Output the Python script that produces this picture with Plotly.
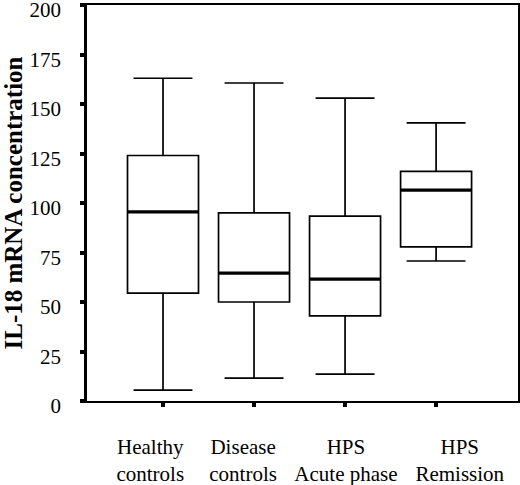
import plotly.graph_objects as go

GROUPS = ['Healthy<br>controls', 'Disease<br>controls', 'HPS<br>Acute phase', 'HPS<br>Remission']
LOWER = [5.5, 11.6, 13.6, 70.7]
Q1 = [54.5, 50.0, 43.0, 77.8]
MEDIAN = [95.5, 64.6, 61.6, 106.5]
Q3 = [124.0, 95.0, 93.4, 116.0]
UPPER = [163.0, 160.6, 153.0, 140.5]
Y_TICKS = [0, 25, 50, 75, 100, 125, 150, 175, 200]

BOX_W = 0.78
X_RANGE = [-0.835, 3.9]
# the original prints the category names a little off their tick marks
LABEL_SHIFT = [-0.14, -0.12, 0.01, 0.26]
SERIF = 'Liberation Serif, Times New Roman, serif'

pos = list(range(len(GROUPS)))

fig = go.Figure()
fig.add_trace(go.Box(
    x=pos, q1=Q1, median=MEDIAN, q3=Q3, lowerfence=LOWER, upperfence=UPPER,
    width=BOX_W, whiskerwidth=0.83,
    line=dict(color='black', width=1.7),
    fillcolor='white', boxpoints=False, hoverinfo='skip',
))

# thicker median bars like the original figure
mx, my = [], []
for p, m in zip(pos, MEDIAN):
    mx += [p - BOX_W / 2, p + BOX_W / 2, None]
    my += [m, m, None]
fig.add_trace(go.Scatter(x=mx, y=my, mode='lines',
                         line=dict(color='black', width=3.2), hoverinfo='skip'))

# invisible trace so the label axis gets drawn
fig.add_trace(go.Scatter(x=pos, y=MEDIAN, xaxis='x2', mode='markers',
                         marker=dict(opacity=0), hoverinfo='skip'))

fig.update_layout(
    width=520, height=485,
    margin=dict(l=87, r=2, t=5, b=84),
    plot_bgcolor='white', paper_bgcolor='white',
    showlegend=False,
    font=dict(family=SERIF, color='black', size=21),
    xaxis=dict(
        range=X_RANGE, tickvals=pos, showticklabels=False,
        showgrid=False, zeroline=False, automargin=False,
        showline=True, linecolor='black', linewidth=2, mirror=True,
        ticks='outside', ticklen=4, tickwidth=3.5, tickcolor='black',
    ),
    xaxis2=dict(
        range=X_RANGE, overlaying='x', anchor='y', side='bottom',
        tickvals=[p + s for p, s in zip(pos, LABEL_SHIFT)], ticktext=GROUPS,
        showgrid=False, zeroline=False, automargin=False, tickangle=0,
        showline=False, ticks='', ticklabelstandoff=31,
        tickfont=dict(family=SERIF, size=21),
    ),
    yaxis=dict(
        range=[0, 200], tickvals=Y_TICKS,
        showgrid=False, zeroline=False, automargin=False,
        showline=True, linecolor='black', linewidth=2.5, mirror=True,
        ticks='outside', ticklen=4, tickwidth=3.5, tickcolor='black',
        ticklabelstandoff=15, ticklabelshift=5, ticklabeloverflow='allow',
        tickfont=dict(family=SERIF, size=21),
        title=dict(text='<b>IL-18 mRNA concentration</b>', standoff=15,
                   font=dict(family=SERIF, size=25)),
    ),
)

# page body has a default 8px margin which pushes the figure off the window
fig.write_html('out.html', config={'displayModeBar': False},
               post_script="document.body.style.margin='0';")
